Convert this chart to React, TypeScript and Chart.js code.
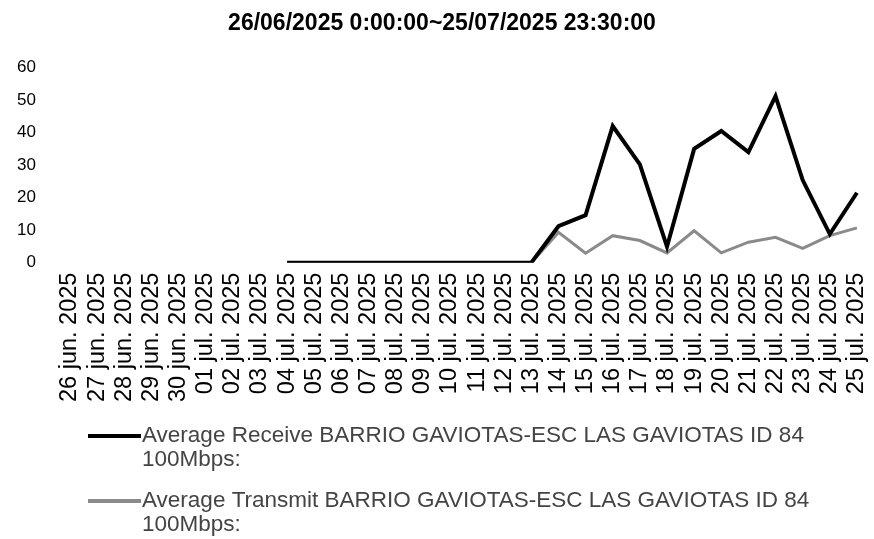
import React, { useEffect, useRef } from "react";
import { Chart, registerables } from "chart.js";

Chart.register(...registerables);

const titleText = "26/06/2025 0:00:00~25/07/2025 23:30:00";

const categories = [
  "26 jun. 2025", "27 jun. 2025", "28 jun. 2025", "29 jun. 2025", "30 jun. 2025",
  "01 jul. 2025", "02 jul. 2025", "03 jul. 2025", "04 jul. 2025", "05 jul. 2025",
  "06 jul. 2025", "07 jul. 2025", "08 jul. 2025", "09 jul. 2025", "10 jul. 2025",
  "11 jul. 2025", "12 jul. 2025", "13 jul. 2025", "14 jul. 2025", "15 jul. 2025",
  "16 jul. 2025", "17 jul. 2025", "18 jul. 2025", "19 jul. 2025", "20 jul. 2025",
  "21 jul. 2025", "22 jul. 2025", "23 jul. 2025", "24 jul. 2025", "25 jul. 2025",
];

const receiveValues = [
  null, null, null, null, null, null, null, null,
  0, 0, 0, 0, 0, 0, 0, 0, 0, 0,
  11.2, 14.6, 42, 30.2, 4.9, 35, 40.5, 34, 51.2, 25.4, 8.8, 21.5,
];

const transmitValues = [
  null, null, null, null, null, null, null, null,
  0, 0, 0, 0, 0, 0, 0, 0, 0, 0,
  9.3, 2.9, 8.3, 6.8, 3, 9.8, 3, 6.3, 7.8, 4.4, 8.3, 10.7,
];

const receiveLegendLines = ["Average Receive BARRIO GAVIOTAS-ESC LAS GAVIOTAS ID 84", "100Mbps:"];
const transmitLegendLines = ["Average Transmit BARRIO GAVIOTAS-ESC LAS GAVIOTAS ID 84", "100Mbps:"];

const yTicks = [0, 10, 20, 30, 40, 50, 60];

const SANS = '"Liberation Sans", Arial, sans-serif';

const legendLines = [receiveLegendLines, transmitLegendLines];

const wrappedLegend = {
  id: "wrappedLegend",
  afterDraw(chart: any) {
    const ctx = chart.ctx;
    ctx.save();
    chart.data.datasets.forEach((ds: any, i: number) => {
      const y0 = 436 + i * 65;
      ctx.strokeStyle = ds.borderColor;
      ctx.lineWidth = 4;
      ctx.beginPath();
      ctx.moveTo(88, y0);
      ctx.lineTo(141, y0);
      ctx.stroke();
      ctx.font = `22.5px ${SANS}`;
      ctx.fillStyle = "#444";
      ctx.textBaseline = "middle";
      ctx.textAlign = "left";
      legendLines[i].forEach((t, j) => ctx.fillText(t, 142, y0 + j * 24));
    });
    ctx.restore();
  },
};

export default function App() {
  const ref = useRef<HTMLCanvasElement | null>(null);
  useEffect(() => {
    if (!ref.current) return;
    const chart = new Chart(ref.current, {
      type: "line",
      data: {
        labels: categories,
        datasets: [
          {
            label: receiveLegendLines.join(" "),
            data: receiveValues,
            borderColor: "#000000",
            backgroundColor: "#000000",
            borderWidth: 4,
            pointRadius: 0,
            tension: 0,
          },
          {
            label: transmitLegendLines.join(" "),
            data: transmitValues,
            borderColor: "#8a8a8a",
            backgroundColor: "#8a8a8a",
            borderWidth: 3,
            pointRadius: 0,
            tension: 0,
          },
        ],
      },
      options: {
        animation: false,
        responsive: false,
        maintainAspectRatio: false,
        layout: { padding: { left: 10, right: 0, top: 0, bottom: 127 } },
        plugins: {
          legend: { display: false },
          tooltip: { enabled: false },
          title: {
            display: true,
            text: titleText,
            color: "#000",
            font: { family: SANS, size: 23, weight: "bold" },
            padding: { top: 10, bottom: 30 },
          },
        },
        scales: {
          x: {
            grid: { display: false, drawTicks: false },
            border: { display: false },
            ticks: {
              autoSkip: false,
              maxRotation: 90,
              minRotation: 90,
              padding: 10,
              color: "#000",
              font: { family: SANS, size: 23.5, lineHeight: 0.3 },
            },
          },
          y: {
            min: 0,
            max: 60,
            grid: { display: false, drawTicks: false },
            border: { display: false },
            afterBuildTicks: (axis: any) => {
              axis.ticks = yTicks.map((v) => ({ value: v }));
            },
            afterFit: (axis: any) => {
              axis.width = 60;
            },
            ticks: {
              crossAlign: "near",
              padding: 34,
              color: "#000",
              font: { family: SANS, size: 17 },
            },
          },
        },
      },
      plugins: [wrappedLegend],
    });
    return () => chart.destroy();
  }, []);
  return (
    <div style={{ position: "fixed", left: 0, top: 0, width: 874, height: 539, background: "#fff" }}>
      <canvas ref={ref} width={874} height={539} style={{ width: 874, height: 539 }} />
    </div>
  );
}
